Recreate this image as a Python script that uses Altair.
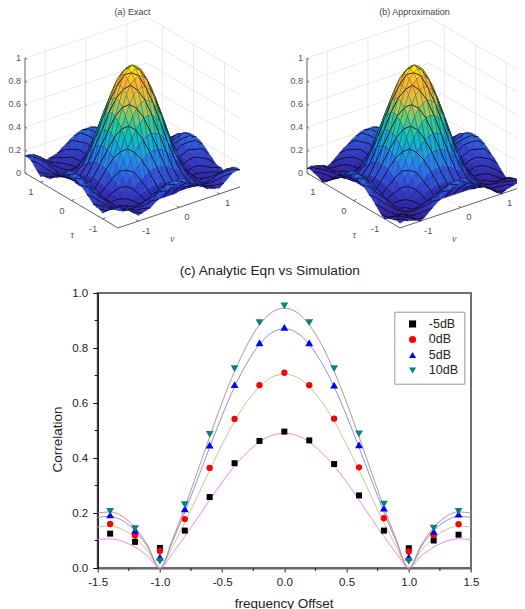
import altair as alt

# ---------- (c) ----------
series = ["-5dB", "0dB", "5dB", "10dB"]
point_x = [-1.4, -1.2, -1.0, -0.8, -0.6, -0.4, -0.2, 0.0, 0.2, 0.4, 0.6, 0.8, 1.0, 1.2, 1.4]
pts_m5 = [.125, .095, .073, .136, .258, .381, .462, .496, .464, .378, .264, .136, .072, .100, .121]
pts_0 = [.160, .118, .062, .178, .364, .542, .665, .710, .665, .543, .366, .181, .060, .119, .159]
pts_5 = [.193, .137, .040, .215, .447, .667, .819, .875, .819, .665, .448, .218, .040, .133, .196]
pts_10 = [.206, .143, .024, .230, .486, .725, .892, .953, .892, .725, .488, .232, .024, .145, .206]
curve_half_x = [0, .1, .2, .3, .4, .5, .6, .7, .8, .9, 1.0, 1.1, 1.2, 1.3, 1.4, 1.5]
curve_m5 = [.49, .482, .458, .42, .371, .312, .247, .18, .115, .053, 0, .044, .076, .097, .106, .104]
curve_0 = [.705, .694, .659, .605, .534, .449, .356, .259, .165, .077, 0, .063, .11, .14, .152, .149]
curve_5 = [.87, .856, .813, .746, .659, .554, .439, .32, .204, .095, 0, .077, .136, .172, .188, .184]
curve_10 = [.945, .93, .884, .811, .715, .602, .477, .348, .221, .103, 0, .084, .147, .187, .204, .2]
line_colors = ["#f088f0", "#c8c890", "#9090e0", "#c09090"]
point_colors = ["#000000", "#ff0000", "#0000ff", "#0b8080"]
point_shapes = ["square", "circle", "triangle-up", "triangle-down"]
point_sizes = [36, 40, 62, 62]

# ---------- (a), (b) height tables, quadrant tau=0..1.5 (rows), nu=0..1.5 (cols) ----------
grid_axis = [0, .1, .2, .3, .4, .5, .6, .7, .8, .9, 1.0, 1.1, 1.2, 1.3, 1.4, 1.5]
height_b = [
    [1.00, .98, .94, .86, .76, .64, .50, .37, .23, .11, .01, .09, .16, .19, .22, .21],
    [.98, .96, .92, .84, .74, .63, .49, .36, .23, .11, .01, .09, .16, .19, .22, .21],
    [.94, .92, .88, .81, .71, .60, .47, .35, .22, .10, .01, .08, .15, .18, .21, .20],
    [.86, .84, .81, .74, .65, .55, .43, .32, .20, .09, .01, .08, .14, .16, .19, .18],
    [.76, .74, .71, .65, .58, .49, .38, .28, .17, .08, .01, .07, .12, .14, .17, .16],
    [.64, .63, .60, .55, .49, .41, .32, .24, .15, .07, .01, .06, .10, .12, .14, .13],
    [.50, .49, .47, .43, .38, .32, .25, .19, .12, .06, .01, .05, .08, .10, .11, .11],
    [.37, .36, .35, .32, .28, .24, .19, .14, .09, .04, .00, .03, .06, .07, .08, .08],
    [.23, .23, .22, .20, .17, .15, .12, .09, .05, .03, .00, .02, .04, .04, .05, .05],
    [.11, .11, .10, .09, .08, .07, .06, .04, .03, .01, .00, .01, .02, .02, .02, .02],
    [.01, .01, .01, .01, .01, .01, .01, .00, .00, .00, .00, .00, .00, .00, .00, .00],
    [.09, .09, .08, .08, .07, .06, .05, .03, .02, .01, .00, .01, .01, .02, .02, .02],
    [.16, .16, .15, .14, .12, .10, .08, .06, .04, .02, .00, .01, .03, .03, .04, .03],
    [.19, .19, .18, .16, .14, .12, .10, .07, .04, .02, .00, .02, .03, .04, .04, .04],
    [.22, .22, .21, .19, .17, .14, .11, .08, .05, .02, .00, .02, .04, .04, .05, .05],
    [.21, .21, .20, .18, .16, .13, .11, .08, .05, .02, .00, .02, .03, .04, .05, .04],
]
height_a = [
    [1.00, .98, .94, .86, .76, .64, .50, .37, .23, .11, .01, .09, .16, .19, .22, .21],
    [.98, .96, .92, .84, .74, .63, .49, .36, .23, .11, .01, .09, .16, .19, .22, .21],
    [.94, .92, .88, .81, .71, .60, .47, .35, .22, .10, .01, .08, .15, .18, .21, .20],
    [.86, .84, .81, .74, .65, .55, .43, .32, .20, .09, .01, .08, .14, .16, .19, .18],
    [.76, .74, .71, .65, .58, .49, .38, .28, .17, .08, .01, .07, .12, .14, .17, .16],
    [.64, .63, .60, .55, .49, .41, .32, .24, .15, .07, .01, .06, .10, .12, .14, .13],
    [.50, .49, .47, .43, .38, .32, .25, .19, .12, .06, .02, .05, .08, .10, .11, .11],
    [.37, .36, .35, .32, .28, .24, .19, .14, .09, .05, .02, .04, .06, .07, .08, .08],
    [.23, .23, .22, .20, .17, .15, .12, .09, .06, .04, .02, .04, .05, .06, .07, .07],
    [.11, .11, .10, .09, .08, .07, .06, .05, .04, .03, .02, .03, .05, .06, .07, .07],
    [.01, .01, .01, .01, .02, .02, .02, .02, .02, .02, .01, .03, .05, .06, .06, .05],
    [.09, .09, .08, .08, .07, .06, .05, .04, .04, .03, .03, .05, .07, .08, .09, .08],
    [.16, .16, .15, .14, .12, .10, .08, .06, .05, .04, .05, .07, .10, .11, .12, .11],
    [.19, .19, .18, .16, .14, .12, .10, .07, .06, .05, .06, .08, .11, .13, .14, .14],
    [.22, .22, .21, .19, .17, .14, .11, .08, .07, .06, .06, .09, .12, .14, .15, .15],
    [.21, .21, .20, .18, .16, .13, .11, .08, .07, .06, .05, .08, .11, .14, .15, .15],
]
surface_ramp = [(0x30, 0x20, 0xA8), (0x34, 0x44, 0xD8), (0x2C, 0x74, 0xF0), (0x1C, 0xA0, 0xE0), (0x10, 0xC0, 0xB8),
                (0x60, 0xCC, 0x80), (0xD8, 0xC4, 0x48), (0xFA, 0xB0, 0x34), (0xFC, 0xF0, 0x1C)]
tick_values = [-1, 0, 1]
z_ticks = [0, .2, .4, .6, .8, 1]
z_labels = ["0", "0.2", "0.4", "0.6", "0.8", "1"]
FONT = "Liberation Sans"
ORIGIN = (97.7, 293.0)
panels = [("(a) Exact", 132.5, height_a), ("(b) Approximation", 414.5, height_b)]
main_title = "(c) Analytic Eqn vs Simulation"


def proj(cx, tau, nu, z):
    return [round(cx - 31 * tau + 40.67 * nu - ORIGIN[0], 2),
            round(180 - 18.3 * tau - 13.67 * nu - 115 * z - ORIGIN[1], 2)]


def hexc(rgb):
    return "#%02x%02x%02x" % tuple(int(max(0, min(255, v))) for v in rgb)


def ramp(z):
    t = max(0, min(.9999, z)) * 8
    i = int(t)
    f = t - i
    return [surface_ramp[i][k] * (1 - f) + surface_ramp[i + 1][k] * f for k in range(3)]


def mirror(table):
    rows = [r[:0:-1] + r for r in table]
    return rows[:0:-1] + rows


def feat(kind, coords, fill, stroke, width):
    return {"type": "Feature", "geometry": {"type": kind, "coordinates": coords},
            "properties": {}, "f": fill, "s": stroke, "w": width}


back, z_text, mid_text, greek = [], [], [], []
for name, cx, table in panels:
    full = mirror(table)
    axis = [-v for v in grid_axis[:0:-1]] + grid_axis
    n = len(axis) - 1
    grid = "#e3e3e3"
    for v in tick_values:
        back.append(feat("LineString", [proj(cx, 1.5, v, 0), proj(cx, 1.5, v, 1)], "transparent", grid, .8))
        back.append(feat("LineString", [proj(cx, v, 1.5, 0), proj(cx, v, 1.5, 1)], "transparent", grid, .8))
        back.append(feat("LineString", [proj(cx, v, -1.5, 0), proj(cx, v, 1.5, 0)], "transparent", grid, .8))
        back.append(feat("LineString", [proj(cx, -1.5, v, 0), proj(cx, 1.5, v, 0)], "transparent", grid, .8))
    for z in z_ticks:
        back.append(feat("LineString", [proj(cx, 1.5, -1.5, z), proj(cx, 1.5, 1.5, z), proj(cx, -1.5, 1.5, z)],
                         "transparent", grid, .8))
    ink = "#505050"
    back.append(feat("LineString", [proj(cx, 1.5, -1.5, 1), proj(cx, 1.5, -1.5, 0), proj(cx, -1.5, -1.5, 0),
                                    proj(cx, -1.5, 1.5, 0)], "transparent", ink, .9))
    for z, lab in zip(z_ticks, z_labels):
        back.append(feat("LineString", [proj(cx, 1.5, -1.5, z), proj(cx, 1.43, -1.5, z)], "transparent", ink, .8))
        p = proj(cx, 1.5, -1.5, z)
        z_text.append({"x": p[0] - 4, "y": p[1], "t": lab})
    for v in tick_values:
        back.append(feat("LineString", [proj(cx, v, -1.5, 0), proj(cx, v, -1.43, 0)], "transparent", ink, .8))
        back.append(feat("LineString", [proj(cx, -1.5, v, 0), proj(cx, -1.43, v, 0)], "transparent", ink, .8))
        p = proj(cx, v, -1.5, 0)
        mid_text.append({"x": p[0] - 9.5, "y": p[1] + 10, "t": str(v), "fs": 9.5, "c": "#555555"})
        p = proj(cx, -1.5, v, 0)
        mid_text.append({"x": p[0] + 8, "y": p[1] + 9.5, "t": str(v), "fs": 9.5, "c": "#555555"})
    mid_text.append({"x": cx - ORIGIN[0], "y": 11.7 - ORIGIN[1], "t": name, "fs": 9, "c": "#444444"})
    greek.append({"x": cx - 60.2 - ORIGIN[0], "y": 235 - ORIGIN[1], "t": "\u03c4"})
    greek.append({"x": cx + 39.8 - ORIGIN[0], "y": 239 - ORIGIN[1], "t": "\u03bd"})
    sub = []
    for i in range(n):
        for j in range(n):
            zs = [full[i][j], full[i + 1][j], full[i + 1][j + 1], full[i][j + 1]]
            zm = sum(zs) / 4
            tau0, tau1, nu0, nu1 = axis[i], axis[i + 1], axis[j], axis[j + 1]
            ring = [proj(cx, tau0, nu0, zs[0]), proj(cx, tau1, nu0, zs[1]), proj(cx, tau1, nu1, zs[2]),
                    proj(cx, tau0, nu1, zs[3])]
            ring.append(ring[0])
            col = ramp(zm)
            depth = 40.67 * (tau0 + tau1) + 31 * (nu0 + nu1)
            sub.append((-depth, 0, feat("Polygon", [ring], hexc(col), hexc([v * .5 for v in col]), .4)))
            if (i + j) % 2 == 1:
                sub.append((-depth, 1, feat("LineString", [ring[1], ring[3]], "transparent", "#08081e", .85)))
    sub.sort(key=lambda r: (r[0], r[1]))
    back.extend(r[2] for r in sub)
mid_text.append({"x": 269.8 - ORIGIN[0], "y": 271 - ORIGIN[1], "t": main_title, "fs": 13.7, "c": "#222222"})

GEO = dict(type="identity", scale=1, translate=[0, 0])
surface = alt.Chart(alt.Data(values=back)).mark_geoshape(clip=False).encode(
    fill=alt.Fill("f:N", scale=None),
    stroke=alt.Stroke("s:N", scale=None),
    strokeWidth=alt.StrokeWidth("w:Q", scale=None),
).project(**GEO)

labels_mid = alt.Chart(alt.Data(values=mid_text)).mark_text(
    font=FONT, baseline="middle", align="center", clip=False
).encode(
    longitude="x:Q", latitude="y:Q", text="t:N",
    size=alt.Size("fs:Q", scale=None), color=alt.Color("c:N", scale=None),
).project(**GEO)
labels_z = alt.Chart(alt.Data(values=z_text)).mark_text(
    font=FONT, baseline="middle", align="right", fontSize=9, color="#555555", clip=False
).encode(longitude="x:Q", latitude="y:Q", text="t:N").project(**GEO)
greek_text = alt.Chart(alt.Data(values=greek)).mark_text(
    font="Liberation Serif", fontStyle="italic", fontSize=10, color="#555555", baseline="middle", clip=False
).encode(longitude="x:Q", latitude="y:Q", text="t:N").project(**GEO)

# ---------- (c) ----------
line_rows = []
for name, vals, col in zip(series, [curve_m5, curve_0, curve_5, curve_10], line_colors):
    xs = [-v for v in curve_half_x[:0:-1]] + curve_half_x
    ys = vals[:0:-1] + vals
    line_rows += [{"x": a, "y": b, "series": name, "c": col} for a, b in zip(xs, ys)]
point_rows = []
for name, vals, size in zip(series, [pts_m5, pts_0, pts_5, pts_10], point_sizes):
    point_rows += [{"x": a, "y": b, "series": name, "sz": size} for a, b in zip(point_x, vals)]
minor_x = [{"v": v} for v in [-1.25, -.75, -.25, .25, .75, 1.25]]
minor_y = [{"v": v} for v in [.1, .3, .5, .7, .9]]
hyphen = "replace(format(datum.value, '.1f'), '\u2212', '-')"

x_enc = alt.X("x:Q", scale=alt.Scale(domain=[-1.5, 1.5], nice=False), axis=alt.Axis(
    values=[-1.5, -1, -.5, 0, .5, 1, 1.5], labelExpr=hyphen, grid=False, title="frequency Offset",
    titleFont=FONT, titleFontSize=13.5, titleFontWeight="normal", titleColor="#222222",
    titleX=186, titleY=35, titleBaseline="middle",
    labelFont=FONT, labelFontSize=11.5, labelColor="#222222", labelPadding=4, labelFlush=False, tickSize=4,
    tickColor="#222222", domainColor="#666666", domainWidth=2))
y_enc = alt.Y("y:Q", scale=alt.Scale(domain=[0, 1], nice=False), axis=alt.Axis(
    values=[0, .2, .4, .6, .8, 1], format=".1f", grid=False, title="Correlation",
    titleFont=FONT, titleFontSize=13.5, titleFontWeight="normal", titleColor="#222222",
    titleX=-39.7, titleY=146, titleBaseline="middle", titleAngle=270,
    labelFont=FONT, labelFontSize=11.5, labelColor="#222222", labelPadding=5, tickSize=5,
    tickColor="#111111", domainColor="#000000", domainWidth=1.2))

lines = alt.Chart(alt.Data(values=line_rows)).mark_line(strokeWidth=1, interpolate="monotone").encode(
    x=x_enc, y=y_enc, detail="series:N", stroke=alt.Stroke("c:N", scale=None))
legend = alt.Legend(title=None, orient="none", legendX=296.6, legendY=18.7, fillColor="#ffffff",
                    strokeColor="#999999", padding=6, symbolOffset=6, symbolSize=50, labelFont=FONT,
                    labelFontSize=12.5, labelColor="#222222", labelOffset=10, rowPadding=2.5, symbolStrokeWidth=0)
points = alt.Chart(alt.Data(values=point_rows)).mark_point(filled=True, opacity=1).encode(
    x="x:Q", y="y:Q",
    color=alt.Color("series:N", sort=series, scale=alt.Scale(domain=series, range=point_colors), legend=legend),
    shape=alt.Shape("series:N", sort=series, scale=alt.Scale(domain=series, range=point_shapes), legend=legend),
    size=alt.Size("sz:Q", scale=None),
)
ticks_x = alt.Chart(alt.Data(values=minor_x)).mark_rule(color="#222222", strokeWidth=1).encode(
    x="v:Q", y=alt.value(275), y2=alt.value(278))
ticks_y = alt.Chart(alt.Data(values=minor_y)).mark_rule(color="#111111", strokeWidth=1).encode(
    y="v:Q", x=alt.value(0), x2=alt.value(-3))

chart = alt.layer(surface, labels_mid, labels_z, greek_text, lines, ticks_x, ticks_y, points).properties(
    width=373.3, height=275,
    padding={"left": 89.7, "top": 285, "right": 46, "bottom": 41},
    autosize=alt.AutoSizeParams(type="none"),
).configure_view(stroke="#707070", strokeWidth=2)

chart.save("out.html", embed_options={"renderer": "svg", "actions": False})
